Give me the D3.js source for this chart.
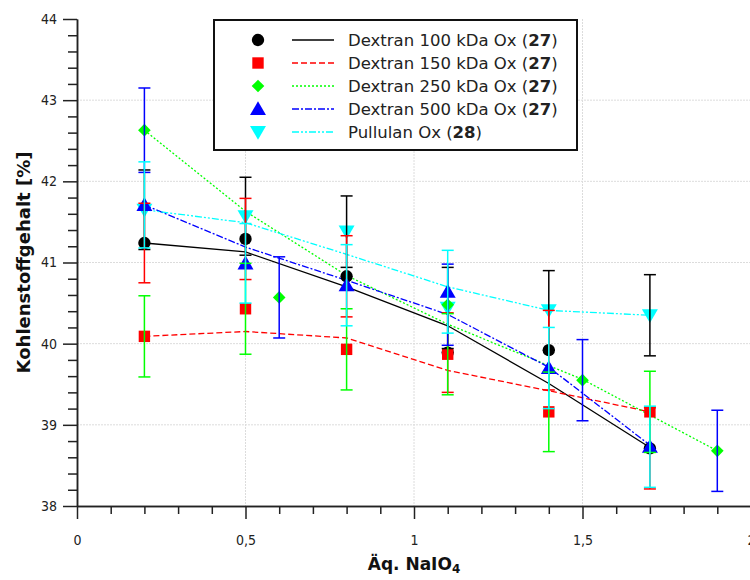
<!DOCTYPE html>
<html>
<head>
<meta charset="utf-8">
<script src="https://cdn.jsdelivr.net/npm/d3@7"></script>
<style>
  body { margin: 0; background: #fff; }
  svg { display: block; }
</style>
</head>
<body>
<svg id="chart" width="750" height="580"></svg>
<script>
// ---------- data ----------
const seriesNames = ["Dextran 100 kDa Ox", "Dextran 150 kDa Ox", "Dextran 250 kDa Ox", "Dextran 500 kDa Ox", "Pullulan Ox"];
const seriesRefs  = ["27", "27", "27", "27", "28"];
const seriesColors = ["#000000", "#ff0000", "#00ff00", "#0000ff", "#00ffff"];
const errorBarColors = ["#ff0000", "#00ff00", "#0000ff", "#00ffff", "#000000"];

const d100X = [0.2, 0.5, 0.8, 1.1, 1.4, 1.7];
const d100Y = [41.24, 41.29, 40.83, 39.89, 39.92, 38.71];
const d100Err = [0.49, 0.50, 0.50, 0.49, 0.49, 0.50];

const d150X = [0.2, 0.5, 0.8, 1.1, 1.4, 1.7];
const d150Y = [40.09, 40.43, 39.93, 39.87, 39.16, 39.16];
const d150Err = [0.50, 0.56, 0.50, 0.50, 0.49, 0.50];

const d250X = [0.2, 0.6, 1.1, 1.5, 1.9];
const d250Y = [42.63, 40.57, 40.48, 39.55, 38.68];
const d250Err = [0.52, 0.50, 0.50, 0.50, 0.50];

const d500X = [0.2, 0.5, 0.8, 1.1, 1.4, 1.7];
const d500Y = [41.71, 40.99, 40.72, 40.64, 39.70, 38.73];
const d500Err = [0.53, 0.49, 0.50, 0.51, 0.50, 0.50];

const pullX = [0.2, 0.5, 0.8, 1.1, 1.4, 1.7];
const pullY = [41.65, 41.57, 41.38, 40.44, 40.41, 40.35];
const pullErr = [0.49, 0.48, 0.44, 0.50, 0.49, 0.50];

// smoothed trend lines as drawn in the reference
const d100LineX = [0.2, 0.5, 0.8, 1.1, 1.4, 1.7];
const d100LineY = [41.24, 41.13, 40.70, 40.22, 39.51, 38.72];
const d150LineX = [0.2, 0.5, 0.8, 1.1, 1.4, 1.7];
const d150LineY = [40.09, 40.15, 40.07, 39.67, 39.42, 39.16];
const d250LineX = [0.2, 0.5, 0.8, 1.1, 1.5, 1.9];
const d250LineY = [42.63, 41.63, 40.84, 40.24, 39.56, 38.68];
const d500LineX = [0.2, 0.5, 0.8, 1.1, 1.4, 1.7];
const d500LineY = [41.71, 41.19, 40.78, 40.36, 39.71, 38.75];
const pullLineX = [0.2, 0.5, 0.8, 1.1, 1.4, 1.7];
const pullLineY = [41.65, 41.49, 41.10, 40.70, 40.41, 40.35];

const xMajorTicks = [0, 0.5, 1, 1.5, 2];
const yMajorTicks = [38, 39, 40, 41, 42, 43, 44];

// ---------- build ----------
const pointsX = [d100X, d150X, d250X, d500X, pullX];
const pointsY = [d100Y, d150Y, d250Y, d500Y, pullY];
const pointsErr = [d100Err, d150Err, d250Err, d500Err, pullErr];
const linesX = [d100LineX, d150LineX, d250LineX, d500LineX, pullLineX];
const linesY = [d100LineY, d150LineY, d250LineY, d500LineY, pullLineY];
const dashes = [null, "6,3", "2,2", "7,2,2,2", "7,2,2,2,2,2"];
const symbols = [d3.symbolCircle, d3.symbolSquare, d3.symbolSquare, d3.symbolTriangle, d3.symbolTriangle];
const symbolSizes = [120, 130, 80, 110, 110];
const symbolRot = [0, 0, 45, 0, 180];

const svg = d3.select("#chart");
const x = d3.scaleLinear().domain([0, 2]).range([77, 751]);
const y = d3.scaleLinear().domain([38, 44]).range([506, 19]);

const deLocale = d3.formatLocale({decimal: ",", thousands: ".", grouping: [3], currency: ["", " €"]});
const fmt = deLocale.format("~g");

// grid
const grid = svg.append("g");
grid.selectAll("line.h").data([39, 40, 41, 42, 43]).join("line")
  .attr("x1", x(0)).attr("x2", 750).attr("y1", d => y(d)).attr("y2", d => y(d))
  .attr("stroke", "#dcdcdc").attr("stroke-width", 1).attr("stroke-dasharray", "2,1");
grid.selectAll("line.v").data([0.5, 1, 1.5]).join("line")
  .attr("x1", d => x(d)).attr("x2", d => x(d)).attr("y1", y(44)).attr("y2", y(38))
  .attr("stroke", "#dcdcdc").attr("stroke-width", 1).attr("stroke-dasharray", "2,1");

// axes
const tickFont = "'DejaVu Sans Condensed', 'DejaVu Sans', sans-serif";
const xMinor = d3.range(0, 20).map(i => i / 10).filter(v => Math.abs(v * 2 - Math.round(v * 2)) > 1e-6);
const xAxisMinor = svg.append("g").attr("transform", `translate(0,${y(38)})`)
  .call(d3.axisBottom(x).tickValues(xMinor).tickSize(8).tickSizeOuter(0).tickFormat(""));
const xAxis = svg.append("g").attr("transform", `translate(0,${y(38)})`)
  .call(d3.axisBottom(x).tickValues(xMajorTicks).tickSize(13).tickSizeOuter(0).tickFormat(fmt));
xAxis.selectAll("text").attr("y", 34).attr("dy", "0.35em")
  .attr("font-size", 14).attr("font-family", tickFont).attr("fill", "#222");

const yMinor = d3.range(0, 31).map(i => 38 + i * 0.2).filter(v => Math.abs(v - Math.round(v)) > 1e-6);
const yAxisMinor = svg.append("g").attr("transform", `translate(${x(0)},0)`)
  .call(d3.axisLeft(y).tickValues(yMinor).tickSize(9).tickSizeOuter(0).tickFormat(""));
const yAxis = svg.append("g").attr("transform", `translate(${x(0)},0)`)
  .call(d3.axisLeft(y).tickValues(yMajorTicks).tickSize(14).tickSizeOuter(0).tickFormat(fmt));
yAxis.selectAll("text").attr("x", -20)
  .attr("font-size", 14).attr("font-family", tickFont).attr("fill", "#222");

[xAxisMinor, xAxis, yAxisMinor, yAxis].forEach(g => {
  g.selectAll("line").attr("stroke", "#222").attr("stroke-width", 1.5);
  g.select(".domain").attr("stroke", "#222").attr("stroke-width", 1.5);
});

// axis titles
svg.append("text").attr("x", 414).attr("y", 570).attr("text-anchor", "middle")
  .attr("font-family", "'DejaVu Sans', sans-serif").attr("font-weight", "bold").attr("font-size", 17)
  .attr("fill", "#111")
  .call(t => {
    t.append("tspan").text("Äq. NaIO");
    t.append("tspan").attr("font-size", 12).attr("dy", 3).text("4");
  });
svg.append("text").attr("transform", `translate(30,${(y(38) + y(44)) / 2}) rotate(-90)`)
  .attr("text-anchor", "middle")
  .attr("font-family", "'DejaVu Sans', sans-serif").attr("font-weight", "bold").attr("font-size", 18)
  .attr("fill", "#111").text("Kohlenstoffgehalt [%]");

// lines
const lineGen = d3.line().x(d => x(d[0])).y(d => y(d[1]));
const linesG = svg.append("g");
linesX.forEach((lx, i) => {
  const pts = lx.map((v, j) => [v, linesY[i][j]]);
  linesG.append("path").attr("d", lineGen(pts)).attr("fill", "none")
    .attr("stroke", seriesColors[i]).attr("stroke-width", 1.3)
    .attr("stroke-dasharray", dashes[i]);
});

// markers (Pullulan drawn first, Dextran series over it)
const drawOrder = [4, 0, 1, 2, 3];
const markOffset = i => symbols[i] === d3.symbolTriangle ? (symbolRot[i] === 180 ? -1.5 : 1.5) : 0;
const markG = svg.append("g");
drawOrder.forEach(i => {
  const sym = d3.symbol().type(symbols[i]).size(symbolSizes[i]);
  pointsX[i].forEach((v, j) => {
    const yy = y(pointsY[i][j]);
    markG.append("path").attr("d", sym())
      .attr("transform", `translate(${x(v)},${yy + markOffset(i)}) rotate(${symbolRot[i]})`)
      .attr("fill", seriesColors[i]);
  });
});

// error bars
const errG = svg.append("g");
drawOrder.forEach(i => {
  pointsX[i].forEach((v, j) => {
    const cx = x(v), y1 = y(pointsY[i][j] + pointsErr[i][j]), y2 = y(pointsY[i][j] - pointsErr[i][j]);
    const c = errorBarColors[i];
    errG.append("line").attr("x1", cx).attr("x2", cx).attr("y1", y1).attr("y2", y2)
      .attr("stroke", c).attr("stroke-width", 1.5);
    [y1, y2].forEach(yy => errG.append("line").attr("x1", cx - 6).attr("x2", cx + 6)
      .attr("y1", yy).attr("y2", yy).attr("stroke", c).attr("stroke-width", 1.5));
  });
});

// legend
const leg = svg.append("g");
leg.append("rect").attr("x", 214).attr("y", 20).attr("width", 363).attr("height", 130)
  .attr("fill", "#fff").attr("stroke", "#111").attr("stroke-width", 2);
seriesNames.forEach((name, i) => {
  const ly = 40 + i * 23;
  const sym = d3.symbol().type(symbols[i]).size(symbolSizes[i]);
  leg.append("path").attr("d", sym()).attr("transform", `translate(258,${ly + markOffset(i)}) rotate(${symbolRot[i]})`)
    .attr("fill", seriesColors[i]);
  leg.append("line").attr("x1", 292).attr("x2", 334).attr("y1", ly).attr("y2", ly)
    .attr("stroke", seriesColors[i]).attr("stroke-width", 1.3).attr("stroke-dasharray", dashes[i]);
  const t = leg.append("text").attr("x", 348).attr("y", ly).attr("dy", "0.36em")
    .attr("font-family", "'DejaVu Sans', sans-serif").attr("font-size", 16.5).attr("fill", "#222");
  t.append("tspan").text(name + " (");
  t.append("tspan").attr("font-weight", "bold").text(seriesRefs[i]);
  t.append("tspan").text(")");
});
</script>
</body>
</html>
